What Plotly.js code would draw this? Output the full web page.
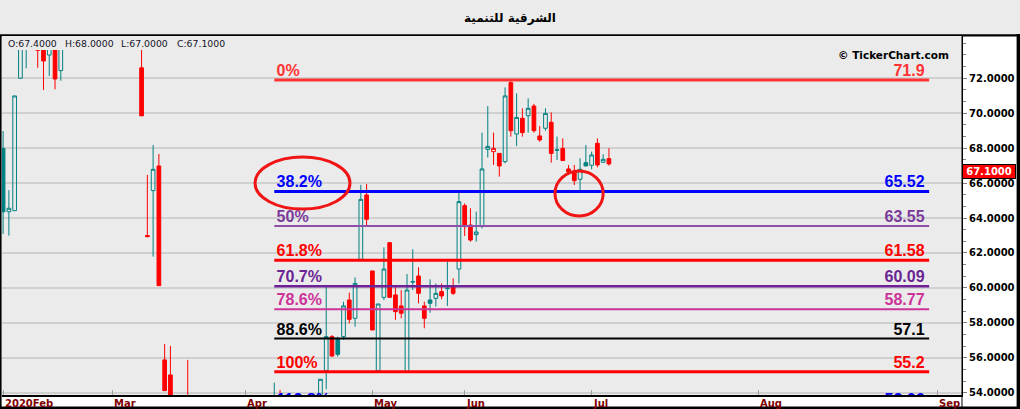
<!DOCTYPE html>
<html><head><meta charset="utf-8">
<script src="https://cdn.plot.ly/plotly-3.0.1.min.js"></script>
<style>html,body{margin:0;padding:0;background:#fff;}#chart{width:1020px;height:409px;}</style>
</head><body><div id="chart"></div>
<script>
const _ = null;
// trading sessions (index 0 = first session shown, early Feb 2020); null = session fully outside the visible price window
const openP = [
 67.99,64.36,64.42,72.0,74.8,_,74.5,74.2,73.33,74.3,
 72.44,_,_,_,_,_,_,_,_,_,
 _,_,_,_,72.6,63.0,65.57,66.98,55.88,55.02,
 _,_,53.2,_,_,_,_,_,_,_,
 _,_,_,_,_,_,_,52.6,53.6,_,
 _,_,_,_,_,53.0,55.27,57.21,57.06,57.21,
 59.31,58.26,61.64,65.32,60.97,55.27,59.46,62.59,59.6,58.97,
 55.19,60.33,60.68,58.97,59.31,59.4,59.79,59.95,60.07,61.08,
 64.71,63.6,63.05,63.51,67.93,67.8,67.7,67.23,71.75,68.81,
 69.71,69.86,70.41,68.7,69.14,69.48,67.88,67.99,66.81,66.66,
 66.22,67.17,67.02,68.28,67.19,67.4];
const highP = [
 68.98,65.6,70.99,75.3,75.8,_,74.8,74.4,74.5,74.5,
 74.6,_,_,_,_,_,_,_,_,_,
 _,_,_,_,74.6,66.47,68.18,67.67,56.79,56.68,
 _,_,55.88,_,_,_,_,_,_,_,
 _,_,_,_,_,_,_,54.58,54.16,_,
 _,_,_,_,_,54.77,60.17,57.3,57.21,59.21,
 59.73,60.6,65.9,65.95,60.97,59.08,62.32,62.59,60.07,59.88,
 60.8,62.21,61.18,59.21,60.49,60.26,60.26,61.5,60.55,65.45,
 64.84,64.56,64.37,68.89,70.41,68.89,67.7,71.48,71.9,71.14,
 70.28,70.85,70.53,69.27,70.28,70.05,68.66,68.56,67.04,67.04,
 67.42,68.18,67.8,68.56,67.65,68.0];
const lowP = [
 63.09,62.99,64.42,72.0,72.57,_,72.6,71.33,72.13,71.37,
 71.86,_,_,_,_,_,_,_,_,_,
 _,_,_,_,69.85,62.93,61.79,60.13,54.12,52.5,
 _,_,52.0,_,_,_,_,_,_,_,
 _,_,_,_,_,_,_,52.2,52.7,_,
 _,_,_,_,_,52.8,54.2,56.07,56.07,57.02,
 57.97,57.78,61.64,63.51,57.59,55.2,59.31,59.46,58.17,58.26,
 55.19,59.88,59.12,57.69,58.58,58.93,59.35,58.97,59.6,60.26,
 62.97,62.65,62.65,63.41,67.46,67.04,66.37,67.13,68.66,68.12,
 68.66,68.89,68.89,68.37,69.0,67.17,67.32,67.29,66.46,65.89,
 65.51,66.98,66.79,66.9,67.19,67.0];
const closeP = [
 64.36,64.56,70.99,75.0,75.4,_,73.6,72.99,74.1,71.96,
 74.2,_,_,_,_,_,_,_,_,_,
 _,_,_,_,69.85,62.93,66.79,60.13,54.12,52.8,
 _,_,52.4,_,_,_,_,_,_,_,
 _,_,_,_,_,_,_,53.4,53.0,_,
 _,_,_,_,_,54.77,57.21,56.1,56.2,58.97,
 58.2,60.26,65.07,63.93,57.59,59.08,61.08,59.46,58.64,58.55,
 59.88,60.36,59.69,58.26,59.12,59.69,59.54,59.98,59.69,64.94,
 63.51,62.74,63.2,66.81,68.1,67.99,66.98,70.99,69.0,69.76,
 68.89,70.28,69.0,68.47,69.99,67.7,67.9,67.29,66.64,66.14,
 66.79,66.98,67.61,67.04,67.36,67.1];
const priorClose = 63.8;

const monthTickPos = [0, 19, 42, 64, 80, 102, 131, 162];
const monthLabels = ['2020Feb','Mar','Apr','May','Jun','Jul','Aug','Sep'];
const yTickVals = [54, 56, 58, 60, 62, 64, 66, 68, 70, 72];

const fibHigh = 71.9, fibLow = 55.2;
const fibRatios = [0, 0.382, 0.5, 0.618, 0.707, 0.786, 0.886, 1, 1.128];
const fibColors = ['#ff3333','#0000ff','#7b3a9b','#ff0000','#6a2494','#cc3399','#000000','#ff0000','#0000ff'];
const fibLineColors = ['#ff3333','#0000ff','#9050aa','#ff0000','#6e2296','#cc3399','#000000','#ff0000','#0000ff'];
const fibWidths = [3, 3, 2, 3, 2.5, 2, 2, 3, 3];

const titleText = 'الشرقية للتنمية';

// ---------- build ----------
const TEAL = '#008080', RED = '#ff0000', CLEAR = 'rgba(0,0,0,0)';
const groups = {
  upTeal:   {line: TEAL, fill: CLEAR, x:[], o:[], h:[], l:[], c:[]},
  downRed:  {line: RED,  fill: RED,   x:[], o:[], h:[], l:[], c:[]},
  downTeal: {line: TEAL, fill: TEAL,  x:[], o:[], h:[], l:[], c:[]},
  upRed:    {line: RED,  fill: CLEAR, x:[], o:[], h:[], l:[], c:[]}
};
let prev = priorClose;
for (let i = 0; i < closeP.length; i++) {
  if (closeP[i] === null) continue;
  const hollow = closeP[i] >= openP[i];
  const gain = closeP[i] >= prev;
  const key = hollow ? (gain ? 'upTeal' : 'upRed') : (gain ? 'downTeal' : 'downRed');
  const g = groups[key];
  g.x.push(i); g.o.push(openP[i]); g.h.push(highP[i]); g.l.push(lowP[i]); g.c.push(closeP[i]);
  prev = closeP[i];
}
const traces = Object.keys(groups).map(k => {
  const g = groups[k];
  const st = {line: {color: g.line, width: 1}, fillcolor: g.fill};
  return {type: 'candlestick', x: g.x, open: g.o, high: g.h, low: g.l, close: g.c,
    increasing: st, decreasing: st, whiskerwidth: 0, hoverinfo: 'skip', showlegend: false};
});

const fibX0 = 47, fibX1 = 160.5, fibLabelL = 47.4, fibLabelR = 159.7;
const fibLevels = fibRatios.map(r => fibHigh - r * (fibHigh - fibLow));
const pctText = fibRatios.map(r => (+(r * 100).toFixed(1)) + '%');
const valText = fibLevels.map(v => String(+v.toFixed(2)));
const fibFont = {family: 'Liberation Sans, Arial', size: 16, weight: 'bold', color: fibColors};
traces.push({type: 'scatter', mode: 'text', x: fibLevels.map(() => fibLabelL), y: fibLevels,
  text: pctText, textposition: 'top right', textfont: fibFont, hoverinfo: 'skip', showlegend: false});
traces.push({type: 'scatter', mode: 'text', x: fibLevels.map(() => fibLabelR), y: fibLevels,
  text: valText, textposition: 'top left', textfont: fibFont, hoverinfo: 'skip', showlegend: false});

// pixel helpers for frame decorations (plot area: x 2..962, y 36..395)
const px = p => (p - 2) / 960;
const py = p => (395 - p) / 359;
const rect = (x0, y0, x1, y1, fill, layer) => ({type: 'rect', xref: 'paper', yref: 'paper',
  x0: px(x0), x1: px(x1), y0: py(y1), y1: py(y0), fillcolor: fill, line: {width: 0}, layer: layer || 'above'});

const shapes = [
  rect(0, 0, 1020, 34.3, '#ebebeb', 'below'),
  rect(0, 34.2, 1020, 36.6, '#000000'),
  rect(2, 36, 962, 50, '#ebebeb'),
  rect(0, 36, 1.6, 409, '#000000'),
  rect(1016.6, 34, 1020, 409, '#000000'),
  rect(0, 406.6, 1020, 409, '#000000'),
  {type: 'line', xref: 'paper', yref: 'paper', x0: 1, x1: 1, y0: py(407), y1: 1, line: {color: '#000', width: 1}}
];
fibLevels.forEach((v, i) => shapes.push({type: 'line', xref: 'x', yref: 'y', x0: fibX0, x1: fibX1, y0: v, y1: v,
  line: {color: fibLineColors[i], width: fibWidths[i]}, layer: 'above'}));
shapes.push({type: 'circle', xref: 'x', yref: 'y', x0: 43.66, x1: 60.12, y0: 64.51, y1: 67.49, line: {color: '#f01414', width: 3}});
shapes.push({type: 'circle', xref: 'x', yref: 'y', x0: 95.65, x1: 104.0, y0: 64.12, y1: 66.69, line: {color: '#f01414', width: 3}});

const last = closeP.length - 1;
const ohlcText = ['O:' + openP[last].toFixed(4), 'H:' + highP[last].toFixed(4), 'L:' + lowP[last].toFixed(4), 'C:' + closeP[last].toFixed(4)];
const ohlcX = [6, 62.5, 118.5, 174.5];
const annotations = ohlcText.map((t, i) => ({xref: 'paper', yref: 'paper', x: px(ohlcX[i]), y: py(43.3),
  xanchor: 'left', yanchor: 'middle', text: t, showarrow: false,
  font: {family: 'DejaVu Sans', size: 9.3, color: '#141428'}}));
annotations.push({xref: 'paper', yref: 'paper', x: px(951), y: py(55.5), xanchor: 'right', yanchor: 'middle',
  text: '© TickerChart.com', showarrow: false, font: {family: 'DejaVu Sans', size: 10.5, color: '#000', weight: 'bold'}});
annotations.push({xref: 'paper', yref: 'y', x: 1, y: closeP[last], xanchor: 'left', yanchor: 'top',
  text: closeP[last].toFixed(4), showarrow: false, bgcolor: '#ff0000', bordercolor: '#000', borderwidth: 1, borderpad: 1,
  width: 50, font: {family: 'DejaVu Sans', size: 10, color: '#fff', weight: 'bold'}});
// month labels, left-aligned at their tick like the reference
monthTickPos.forEach((t, i) => annotations.push({xref: 'x', yref: 'paper', x: t, y: py(396.5),
  xanchor: 'left', yanchor: 'top', xshift: 0.5, text: monthLabels[i], showarrow: false, borderpad: 0,
  font: {family: 'DejaVu Sans', size: 10, color: '#800000', weight: 'bold'}}));

const layout = {
  width: 1020, height: 409, autosize: false,
  margin: {l: 2, r: 58, t: 36, b: 14, pad: 0},
  paper_bgcolor: '#ffffff', plot_bgcolor: '#ebebeb',
  showlegend: false, boxgap: 0.2, boxgroupgap: 0.2,
  title: {text: titleText, xref: 'container', x: 0.5, yref: 'container', y: 1 - 17.7 / 409, yanchor: 'middle',
    font: {family: 'DejaVu Sans', size: 12, color: '#000', weight: 'bold'}},
  xaxis: {type: 'linear', range: [-0.19, 166.19], rangeslider: {visible: false},
    tickmode: 'array', tickvals: monthTickPos, showticklabels: false,
    ticks: 'inside', ticklen: 5, tickwidth: 1, tickcolor: '#a0a0a0',
    showgrid: false, zeroline: false, showline: true, linecolor: '#000', linewidth: 2, fixedrange: true},
  yaxis: {side: 'right', range: [53.87, 74.42], tickmode: 'array', tickvals: yTickVals, tickformat: '.4f',
    ticks: 'outside', ticklen: 4, tickwidth: 1, tickcolor: '#808080',
    tickfont: {family: 'DejaVu Sans', size: 10, color: '#000', weight: 'bold'},
    showgrid: true, gridcolor: '#d0d0d0', gridwidth: 2, zeroline: false,
    showline: true, linecolor: '#000', linewidth: 1, fixedrange: true,
    minor: {tickmode: 'linear', tick0: 54, dtick: 2 / 3, ticks: 'outside', ticklen: 3, tickcolor: '#808080', showgrid: false}},
  shapes: shapes, annotations: annotations
};
Plotly.newPlot('chart', traces, layout, {displayModeBar: false, staticPlot: true});
</script></body></html>
